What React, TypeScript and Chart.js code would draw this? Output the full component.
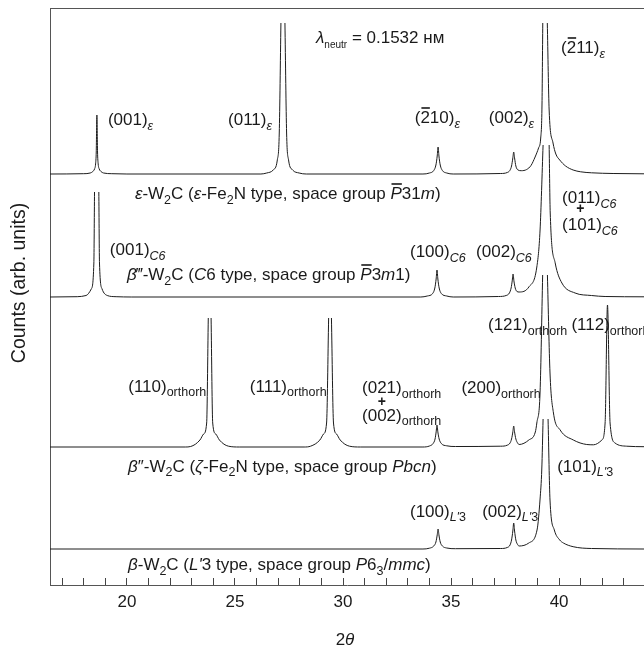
import React, { useEffect, useRef } from 'react';
import { Chart, registerables } from 'chart.js';

Chart.register(...registerables);

// ---- axis ranges and ticks ----
const X_MIN = 16.44;
const X_MAX = 43.93;
const Y_MAX = 577;
const xMajorTicks = [20, 25, 30, 35, 40];
const xTickValues = [17, 18, 19, 20, 21, 22, 23, 24, 25, 26, 27, 28, 29, 30, 31, 32, 33, 34, 35, 36, 37, 38, 39, 40, 41, 42, 43];

// ---- vertical offsets of each pattern (arb. units) ----
const baselines = [411, 288, 138, 36];

// ---- patterns: [2theta, counts above baseline]; null = open (truncated) peak top ----
const epsilonPattern: [number, number | null][] = [
  [16.44, 0], [18.0, 0.3], [18.3, 1], [18.42, 2.5], [18.5, 5], [18.55, 10], [18.58, 22], [18.61, 59], [18.64, 22], [18.67, 10], [18.72, 5], [18.8, 2.5], [18.92, 1], [19.3, 0.3], [20.0, 0],
  [26.2, 0], [26.47, 1], [26.77, 4], [26.96, 14], [27.05, 41], [27.127, 151], [27.22, null], [27.313, 151], [27.39, 41], [27.48, 14], [27.67, 4], [27.97, 1], [28.3, 0],
  [33.7, 0], [34.0, 1], [34.2, 3.5], [34.3, 9], [34.36, 18], [34.4, 27], [34.44, 18], [34.5, 9], [34.6, 3.5], [34.8, 1], [35.1, 0],
  [37.3, 0.5], [37.6, 1.5], [37.72, 3.5], [37.8, 8], [37.86, 16], [37.9, 22], [37.94, 16], [38.0, 8], [38.1, 4], [38.25, 3.3], [38.5, 4.5], [38.7, 8.5], [38.89, 17], [39.05, 26], [39.15, 36], [39.21, 70], [39.245, 151],
  [39.35, null],
  [39.455, 151], [39.54, 64], [39.72, 31], [39.85, 20], [40.03, 14], [40.3, 8], [40.65, 4], [41.0, 2.2], [41.5, 1.2], [42.5, 0.5], [43.93, 0.2],
];

const betaTriplePattern: [number, number | null][] = [
  [16.44, 0], [17.7, 0.3], [18.11, 1.5], [18.35, 8], [18.47, 34], [18.5, 105], [18.6, null], [18.7, 105], [18.73, 34], [18.85, 8], [19.09, 1.5], [19.5, 0.3], [20.2, 0],
  [33.6, 0], [33.9, 1], [34.15, 3.5], [34.25, 9], [34.31, 18], [34.35, 27], [34.39, 18], [34.45, 9], [34.55, 3.5], [34.8, 1], [35.1, 0],
  [37.2, 0.5], [37.55, 1.5], [37.7, 4], [37.78, 9], [37.83, 16], [37.87, 23], [37.91, 16], [37.97, 9], [38.05, 5.5], [38.15, 5], [38.6, 10], [38.97, 30], [39.12, 67], [39.26, 152],
  [39.4, null],
  [39.54, 152], [39.59, 84], [39.82, 34], [40.13, 14], [40.74, 4], [41.5, 1.5], [42.13, 0.5], [43.93, 0.2],
];

const betaDoublePattern: [number, number | null][] = [
  [16.44, 0], [22.7, 0], [22.95, 0.5], [23.38, 7], [23.55, 13], [23.69, 24], [23.765, 129], [23.83, null], [23.895, 129], [23.97, 24], [24.11, 13], [24.28, 7], [24.7, 0.8], [25.2, 0],
  [28.2, 0], [28.5, 0.8], [28.93, 7], [29.1, 13], [29.24, 24], [29.335, 129], [29.4, null], [29.465, 129], [29.56, 24], [29.7, 13], [29.87, 7], [30.3, 0.8], [30.8, 0],
  [33.7, 0], [34.0, 1], [34.17, 3.5], [34.26, 8], [34.31, 15], [34.35, 22], [34.39, 15], [34.45, 8], [34.55, 3.5], [34.8, 1.2], [35.2, 0.5],
  [37.3, 0.8], [37.6, 1.8], [37.73, 4], [37.8, 8], [37.86, 15], [37.9, 21], [37.94, 15], [38.0, 8], [38.08, 4], [38.15, 2.5], [38.6, 7], [38.9, 15], [38.97, 24], [39.12, 55], [39.24, 172],
  [39.35, null],
  [39.46, 172], [39.58, 74], [39.74, 34], [40.05, 17], [40.66, 7], [41.28, 2.5], [41.59, 2.2], [41.98, 7], [42.13, 24], [42.24, 142], [42.36, 24], [42.59, 4], [43.13, 0.8], [43.93, 0.3],
];

const betaPattern: [number, number | null][] = [
  [16.44, 0], [33.7, 0], [34.0, 0.8], [34.2, 3], [34.3, 7], [34.36, 14], [34.4, 20], [34.44, 14], [34.5, 7], [34.6, 3], [34.8, 1], [35.2, 0.3],
  [37.3, 0.5], [37.6, 1.5], [37.73, 4], [37.8, 9], [37.86, 18], [37.9, 26], [37.94, 18], [38.0, 9], [38.08, 4.5], [38.15, 3], [38.6, 6], [38.98, 19], [39.12, 50], [39.2, 80], [39.26, 130],
  [39.38, null],
  [39.49, 130], [39.58, 49], [39.78, 19], [40.03, 9], [40.2, 6], [40.65, 2.3], [41.5, 0.5], [43.93, 0],
];

const patterns = [epsilonPattern, betaTriplePattern, betaDoublePattern, betaPattern];

// ---- text annotations (x in 2theta, y in arb. units) ----
type Run = { t: string; s?: 'n' | 'i' | 'sub' | 'subi' | 'tiny' | 'plus'; bar?: boolean };
type Note = { x: number; y: number; runs: Run[] };

const notes: Note[] = [
  { x: 19.12, y: 460, runs: [{ t: '(001)' }, { t: 'ε', s: 'subi' }] },
  { x: 24.68, y: 460, runs: [{ t: '(011)' }, { t: 'ε', s: 'subi' }] },
  { x: 28.75, y: 542, runs: [{ t: 'λ', s: 'i' }, { t: 'neutr', s: 'tiny' }, { t: ' = 0.1532 нм' }] },
  { x: 40.09, y: 532, runs: [{ t: '(' }, { t: '2', bar: true }, { t: '11)' }, { t: 'ε', s: 'subi' }] },
  { x: 33.32, y: 462, runs: [{ t: '(' }, { t: '2', bar: true }, { t: '10)' }, { t: 'ε', s: 'subi' }] },
  { x: 36.75, y: 462, runs: [{ t: '(002)' }, { t: 'ε', s: 'subi' }] },
  { x: 20.37, y: 386, runs: [{ t: 'ε', s: 'i' }, { t: '-W' }, { t: '2', s: 'sub' }, { t: 'C (' }, { t: 'ε', s: 'i' }, { t: '-Fe' }, { t: '2', s: 'sub' }, { t: 'N type, space group ' }, { t: 'P', s: 'i', bar: true }, { t: '31' }, { t: 'm', s: 'i' }, { t: ')' }] },
  { x: 19.21, y: 330, runs: [{ t: '(001)' }, { t: 'C6', s: 'subi' }] },
  { x: 20.0, y: 305, runs: [{ t: 'β', s: 'i' }, { t: '‴' }, { t: '-W' }, { t: '2', s: 'sub' }, { t: 'C (' }, { t: 'C', s: 'i' }, { t: '6 type, space group ' }, { t: 'P', s: 'i', bar: true }, { t: '3' }, { t: 'm', s: 'i' }, { t: '1)' }] },
  { x: 33.1, y: 328, runs: [{ t: '(100)' }, { t: 'C6', s: 'subi' }] },
  { x: 36.16, y: 328, runs: [{ t: '(002)' }, { t: 'C6', s: 'subi' }] },
  { x: 40.14, y: 382, runs: [{ t: '(011)' }, { t: 'C6', s: 'subi' }] },
  { x: 40.98, y: 376, runs: [{ t: '+', s: 'plus' }] },
  { x: 40.14, y: 355, runs: [{ t: '(101)' }, { t: 'C6', s: 'subi' }] },
  { x: 20.06, y: 193.3, runs: [{ t: '(110)' }, { t: 'orthorh', s: 'sub' }] },
  { x: 25.69, y: 193.3, runs: [{ t: '(111)' }, { t: 'orthorh', s: 'sub' }] },
  { x: 30.88, y: 191.7, runs: [{ t: '(021)' }, { t: 'orthorh', s: 'sub' }] },
  { x: 31.8, y: 183.3, runs: [{ t: '+', s: 'plus' }] },
  { x: 30.88, y: 164.3, runs: [{ t: '(002)' }, { t: 'orthorh', s: 'sub' }] },
  { x: 35.48, y: 192, runs: [{ t: '(200)' }, { t: 'orthorh', s: 'sub' }] },
  { x: 36.71, y: 255, runs: [{ t: '(121)' }, { t: 'orthorh', s: 'sub' }] },
  { x: 40.57, y: 255, runs: [{ t: '(112)' }, { t: 'orthorh', s: 'sub' }] },
  { x: 20.05, y: 113.3, runs: [{ t: 'β', s: 'i' }, { t: '″' }, { t: '-W' }, { t: '2', s: 'sub' }, { t: 'C (' }, { t: 'ζ', s: 'i' }, { t: '-Fe' }, { t: '2', s: 'sub' }, { t: 'N type, space group ' }, { t: 'Pbcn', s: 'i' }, { t: ')' }] },
  { x: 33.1, y: 68.3, runs: [{ t: '(100)' }, { t: "L'", s: 'subi' }, { t: '3', s: 'sub' }] },
  { x: 36.44, y: 68.3, runs: [{ t: '(002)' }, { t: "L'", s: 'subi' }, { t: '3', s: 'sub' }] },
  { x: 39.91, y: 113.3, runs: [{ t: '(101)' }, { t: "L'", s: 'subi' }, { t: '3', s: 'sub' }] },
  { x: 20.05, y: 15, runs: [{ t: 'β', s: 'i' }, { t: '-W' }, { t: '2', s: 'sub' }, { t: 'C (' }, { t: "L'", s: 'i' }, { t: '3 type, space group ' }, { t: 'P', s: 'i' }, { t: '6' }, { t: '3', s: 'sub' }, { t: '/' }, { t: 'mmc', s: 'i' }, { t: ')' }] },
];

const yTitle = 'Counts (arb. units)';

const FAMILY = '"Liberation Sans", Arial, Helvetica, sans-serif';
const FS = 17;
const TEXT = '#1a1a1a';

function drawRuns(ctx: CanvasRenderingContext2D, x: number, y: number, runs: Run[]) {
  let cx = x;
  for (const r of runs) {
    if (r.s === 'plus') {
      ctx.font = `bold 14px ${FAMILY}`;
      ctx.textAlign = 'center';
      ctx.textBaseline = 'middle';
      ctx.fillText(r.t, cx, y);
      ctx.textAlign = 'left';
      ctx.textBaseline = 'alphabetic';
      continue;
    }
    const sub = r.s === 'sub' || r.s === 'subi' || r.s === 'tiny';
    const italic = r.s === 'i' || r.s === 'subi';
    const fs = r.s === 'tiny' ? 10 : sub ? 12.5 : FS;
    ctx.font = `${italic ? 'italic ' : ''}${fs}px ${FAMILY}`;
    const dy = sub ? 4.5 : 0;
    ctx.fillText(r.t, cx, y + dy);
    const w = ctx.measureText(r.t).width;
    if (r.bar) {
      ctx.fillRect(cx + 1, y + dy - fs * 0.93, w - 1, 1.6);
    }
    cx += w;
  }
}

const decorPlugin = {
  id: 'decor',
  afterDatasetsDraw(chart: any) {
    const { ctx, chartArea, scales } = chart;
    ctx.save();
    // top frame line
    ctx.strokeStyle = '#555';
    ctx.lineWidth = 1;
    ctx.beginPath();
    ctx.moveTo(chartArea.left, chartArea.top + 0.5);
    ctx.lineTo(chartArea.right, chartArea.top + 0.5);
    ctx.stroke();
    ctx.fillStyle = TEXT;
    ctx.textAlign = 'left';
    ctx.textBaseline = 'alphabetic';
    for (const n of notes) {
      drawRuns(ctx, scales.x.getPixelForValue(n.x), scales.y.getPixelForValue(n.y), n.runs);
    }
    ctx.restore();
  },
  afterDraw(chart: any) {
    const { ctx, chartArea } = chart;
    ctx.save();
    ctx.fillStyle = TEXT;
    // x title "2θ"
    const cx = (chartArea.left + chartArea.right) / 2 - 2;
    ctx.font = `${FS}px ${FAMILY}`;
    const w2 = ctx.measureText('2').width;
    ctx.font = `italic ${FS}px ${FAMILY}`;
    const wt = ctx.measureText('θ').width;
    const sx = cx - (w2 + wt) / 2;
    ctx.textBaseline = 'alphabetic';
    ctx.textAlign = 'left';
    ctx.font = `${FS}px ${FAMILY}`;
    ctx.fillText('2', sx, 645);
    ctx.font = `italic ${FS}px ${FAMILY}`;
    ctx.fillText('θ', sx + w2, 645);
    // y title
    ctx.translate(20, 283);
    ctx.rotate(-Math.PI / 2);
    ctx.font = `19.5px ${FAMILY}`;
    ctx.textAlign = 'center';
    ctx.textBaseline = 'middle';
    ctx.fillText(yTitle, 0, 0);
    ctx.restore();
  },
};

export default function App() {
  const ref = useRef<HTMLCanvasElement | null>(null);
  useEffect(() => {
    if (!ref.current) return;
    const datasets = patterns.map((p, i) => ({
      data: p.map(([x, y]) => ({ x, y: y === null ? null : y + baselines[i] })),
      borderColor: '#1c1c1c',
      borderWidth: 1,
      pointRadius: 0,
      fill: false,
      spanGaps: false,
      cubicInterpolationMode: 'monotone' as const,
    }));
    const chart = new Chart(ref.current, {
      type: 'line',
      data: { datasets },
      options: {
        animation: false,
        responsive: false,
        layout: { padding: { top: 8, left: 0, right: 0, bottom: 0 } },
        plugins: { legend: { display: false }, tooltip: { enabled: false } },
        scales: {
          x: {
            type: 'linear',
            min: X_MIN,
            max: X_MAX,
            afterBuildTicks: (s: any) => {
              s.ticks = xTickValues.map((v) => ({ value: v }));
            },
            afterFit: (s: any) => {
              s.height = 63;
            },
            ticks: {
              autoSkip: false,
              maxRotation: 0,
              padding: 14,
              color: TEXT,
              font: { size: FS, family: FAMILY },
              callback: (v: any) => (xMajorTicks.includes(Number(v)) ? String(v) : ''),
            },
            grid: { drawOnChartArea: false, tickLength: -7, color: '#444', lineWidth: 1 },
            border: { display: true, color: '#555', width: 1 },
          },
          y: {
            type: 'linear',
            min: 0,
            max: Y_MAX,
            afterFit: (s: any) => {
              s.width = 50;
            },
            ticks: { display: false },
            grid: { display: false, drawTicks: false },
            border: { display: true, color: '#555', width: 1 },
          },
        },
      },
      plugins: [decorPlugin],
    });
    return () => chart.destroy();
  }, []);
  return (
    <div style={{ position: 'absolute', left: 0, top: 0, width: 644, height: 648, background: '#fff' }}>
      <canvas ref={ref} width={644} height={648} style={{ display: 'block' }} />
    </div>
  );
}
